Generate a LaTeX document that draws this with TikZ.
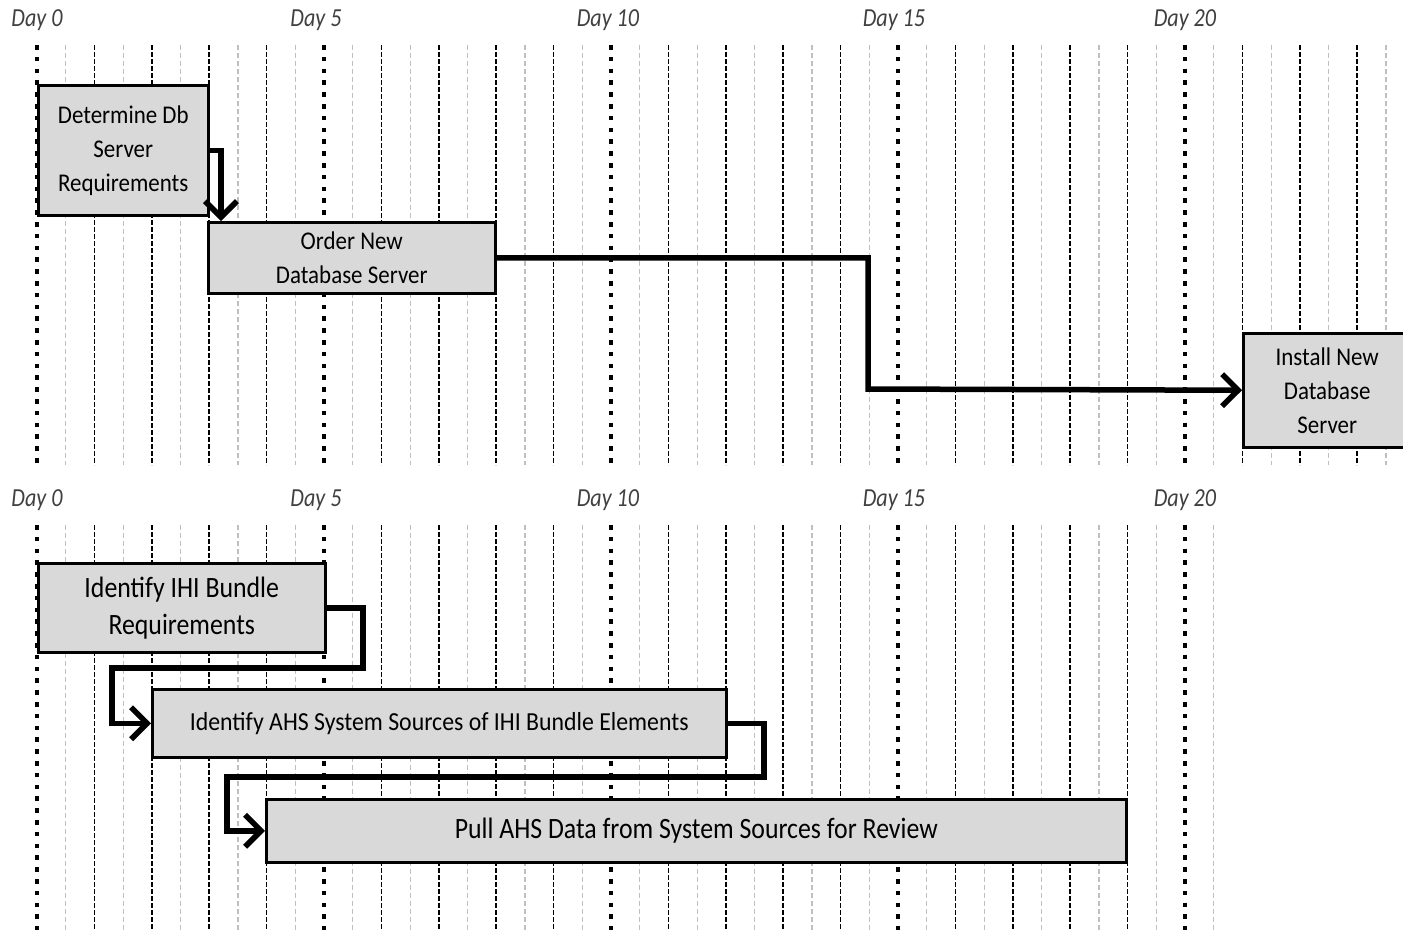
\documentclass[tikz,border=0pt]{standalone}
\usepackage{fontspec}
\setmainfont{Carlito}
\newfontfamily\topfont[FakeStretch=0.9]{Carlito}
\newfontfamily\lowfont[FakeStretch=0.875]{Carlito}
\newfontfamily\ahsfont[FakeStretch=0.915]{Carlito}
\newfontfamily\dayfont[FakeStretch=0.85]{Carlito}
\usetikzlibrary{arrows.meta}
\definecolor{boxgray}{HTML}{D9D9D9}
\definecolor{halfgray}{HTML}{BFBFBF}
\definecolor{daytext}{HTML}{404040}
\begin{document}
\begin{tikzpicture}[x=1pt,y=-1pt,
  dayline/.style={line width=4.5pt,dash pattern=on 4.5pt off 7.3pt},
  wholeline/.style={line width=1.5pt,dash pattern=on 5pt off 2pt},
  halfline/.style={line width=1.2pt,halfgray,dash pattern=on 5pt off 3pt},
  daylabel/.style={font=\dayfont\fontsize{26}{28}\selectfont\itshape,text=daytext,inner sep=0pt},
  task/.style={draw,line width=2.5pt,fill=boxgray,inner sep=0pt,align=center,
    anchor=north west,font=\topfont\fontsize{25.5}{34}\selectfont},
  taskb/.style={task,font=\lowfont\fontsize{29.5}{37}\selectfont},
  conn/.style={line width=5.5pt,miter limit=4,
    -{Straight Barb[length=16pt,width=32pt,line width=5.5pt]}}]
\useasboundingbox (0,0) rectangle (1403,930);
\fill[white] (0,0) rectangle (1403,930);

% upper timeline grid: half days 0..23.5
\foreach \i in {0,...,23}
  \draw[halfline] ({37+57.4*(\i+0.5)},45) -- ({37+57.4*(\i+0.5)},465);
\foreach \d in {1,2,3,4,6,7,8,9,11,12,13,14,16,17,18,19,21,22,23}
  \draw[wholeline] ({37+57.4*\d},45) -- ({37+57.4*\d},465);
\foreach \d in {0,5,10,15,20}
  \draw[dayline] ({37+57.4*\d},45) -- ({37+57.4*\d},465);

% lower timeline grid: half days 0..20.5
\foreach \i in {0,...,20}
  \draw[halfline] ({37+57.4*(\i+0.5)},525) -- ({37+57.4*(\i+0.5)},930);
\foreach \d in {1,2,3,4,6,7,8,9,11,12,13,14,16,17,18,19}
  \draw[wholeline] ({37+57.4*\d},525) -- ({37+57.4*\d},930);
\foreach \d in {0,5,10,15,20}
  \draw[dayline] ({37+57.4*\d},525) -- ({37+57.4*\d},930);

% day labels
\foreach \d/\x in {0/37,5/316,10/608,15/894,20/1185} {
  \node[daylabel] (top\d) at (\x,20) {Day \d};
  \node[daylabel] (bot\d) at (\x,500) {Day \d};
}

% upper tasks
\node[task,minimum width=170pt,minimum height=130pt] (det) at (37,84)
  {Determine Db\\Server\\Requirements};
\node[task,minimum width=287pt,minimum height=71pt] (ord) at (207,221)
  {Order New\\Database Server};
\node[task,minimum width=168pt,minimum height=114pt] (inst) at (1242,332)
  {Install New\\Database\\Server};

\coordinate (k1) at (868,389);
\draw[conn] (det.east) -| ([xshift=14pt]ord.north west);
\draw[conn] (ord.east) -| (k1) -- (inst.west);

% lower tasks
\node[taskb,minimum width=287pt,minimum height=89pt] (ihi) at (37,562)
  {Identify IHI Bundle\\Requirements};
\node[taskb,minimum width=574pt,minimum height=68pt,
  font=\ahsfont\fontsize{26}{30}\selectfont] (ahs) at (151,688)
  {Identify AHS System Sources of IHI Bundle Elements};
\node[taskb,minimum width=860pt,minimum height=63pt] (pull) at (265,798)
  {Pull AHS Data from System Sources for Review};

\coordinate (k2) at (363,668);
\coordinate (k3) at (112,668);
\coordinate (k4) at (764,777);
\coordinate (k5) at (227,777);
\draw[conn] (ihi.east) -| (k2) -- (k3) |- (ahs.west);
\draw[conn] (ahs.east) -| (k4) -- (k5) |- (pull.west);
\end{tikzpicture}
\end{document}
